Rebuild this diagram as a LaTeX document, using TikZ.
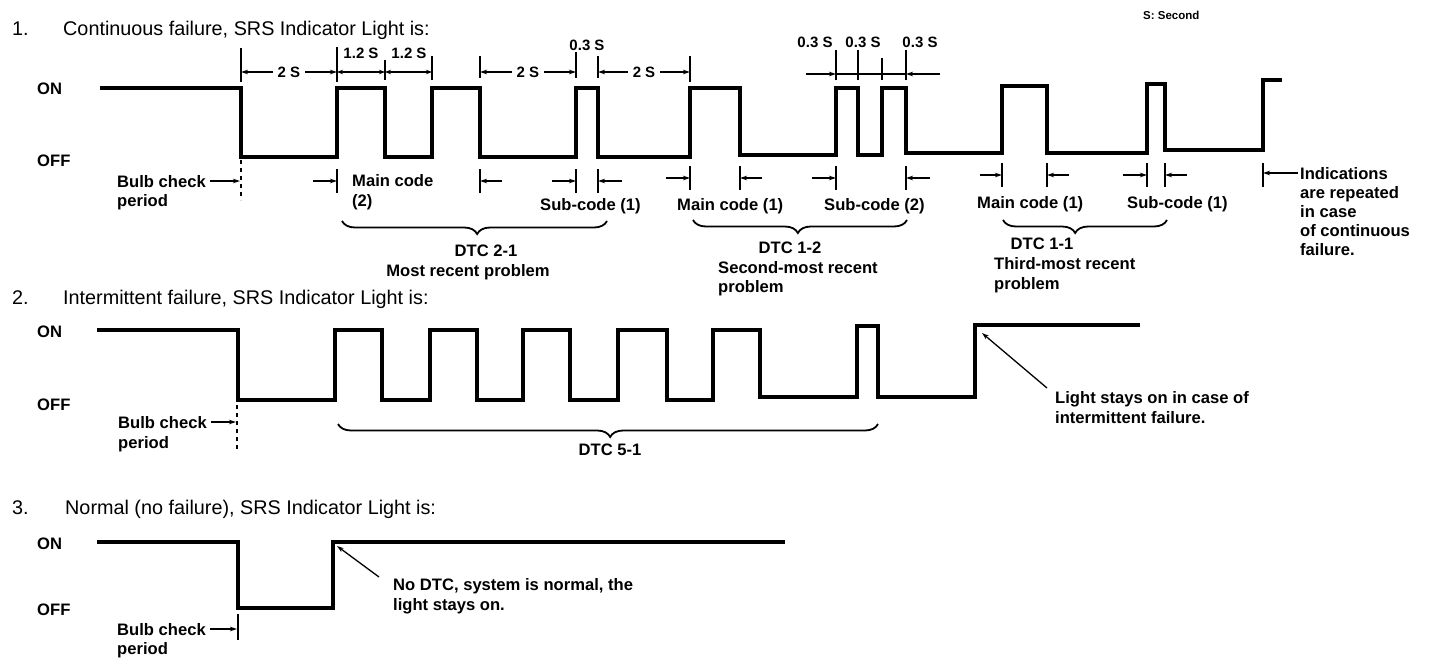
\documentclass[tikz,border=0pt]{standalone}
\usepackage{fontspec}
\setmainfont{Liberation Sans}
\usetikzlibrary{arrows.meta,decorations.pathreplacing}
\begin{document}
\begin{tikzpicture}[x=1pt,y=-1pt,
 wave/.style={line width=4.8pt, line join=miter, line cap=butt},
 thinl/.style={line width=1.3pt},
 arr/.style={thinl, -{Stealth[length=7pt,width=4.5pt]}},
 darr/.style={thinl, {Stealth[length=6pt,width=4.5pt]}-{Stealth[length=6pt,width=4.5pt]}},
 lbl/.style={font=\bfseries\fontsize{16.6}{19}\selectfont, inner sep=0pt, text height=12pt, text depth=0pt, anchor=west},
 clbl/.style={lbl, anchor=center},
 dl/.style={font=\bfseries\fontsize{15}{17}\selectfont, inner sep=0pt, text height=11pt, text depth=0pt},
 ttl/.style={font=\fontsize{19.8}{23}\selectfont, inner sep=0pt, text height=14pt, text depth=0pt, anchor=west},
 brc/.style={decorate, decoration={brace, mirror, amplitude=13pt, aspect=#1}, line width=1.8pt},
 brc/.default=0.5
]
\useasboundingbox[fill=white] (0,0) rectangle (1440,664);

% ---------------- Section 1 ----------------
\node[ttl] (n1) at (12,28) {1.};
\node[ttl] (t1) at (63,28) {Continuous failure, SRS Indicator Light is:};
\node[font=\bfseries\fontsize{11.5}{14}\selectfont, inner sep=0pt, anchor=west] (sec) at (1143,15) {S: Second};
\node[lbl] (on1) at (37,88) {ON};
\node[lbl] (off1) at (37,160) {OFF};

\draw[wave] (100,88) -- (241,88) -- (241,157) -- (337,157) -- (337,88) -- (385,88) -- (385,157)
  -- (432,157) -- (432,88) -- (480,88) -- (480,157) -- (576,157) -- (576,88) -- (598,88)
  -- (598,157) -- (690,157) -- (690,88) -- (740,88) -- (740,155) -- (836,155) -- (836,88)
  -- (858,88) -- (858,155) -- (882,155) -- (882,88) -- (906,88) -- (906,153) -- (1002,153)
  -- (1002,86) -- (1047,86) -- (1047,153) -- (1147,153) -- (1147,84) -- (1165,84) -- (1165,150)
  -- (1263,150) -- (1263,80) -- (1282,80);

% top dimension ticks
\foreach \x/\a/\b in {241/48/82, 337/47/82, 385/60/80, 432/56/80, 480/56/78, 576/52/78, 598/56/78, 690/56/82,
                       836/50/80, 858/50/80, 882/58/80, 906/50/80}
  \draw[thinl] (\x,\a) -- (\x,\b);
\coordinate (a241) at (241,72); \coordinate (a337) at (337,72); \coordinate (a385) at (385,72);
\coordinate (a432) at (432,72); \coordinate (a480) at (480,72); \coordinate (a576) at (576,72);
\coordinate (a598) at (598,72); \coordinate (a690) at (690,72);
\node[dl] (d1) at (289,72) {2 S};
\draw[arr] (d1.west) ++(-5,0) -- (a241);
\draw[arr] (d1.east) ++(5,0) -- (a337);
\draw[darr] (a337) -- (a385);
\draw[darr] (a385) -- (a432);
\node[dl] (d2) at (361,53) {1.2 S};
\node[dl] (d3) at (409,53) {1.2 S};
\node[dl] (d4) at (528,72) {2 S};
\draw[arr] (d4.west) ++(-5,0) -- (a480);
\draw[arr] (d4.east) ++(5,0) -- (a576);
\node[dl] (d5) at (587,45) {0.3 S};
\node[dl] (d6) at (644,72) {2 S};
\draw[arr] (d6.west) ++(-5,0) -- (a598);
\draw[arr] (d6.east) ++(5,0) -- (a690);

\coordinate (b806) at (806,74); \coordinate (b836) at (836,74);
\coordinate (b906) at (906,74); \coordinate (b940) at (940,74);
\draw[arr] (b806) -- (b836);
\draw[thinl] (b836) -- (b906);
\draw[arr] (b940) -- (b906);
\node[dl] (d7) at (815,42) {0.3 S};
\node[dl] (d8) at (863,42) {0.3 S};
\node[dl] (d9) at (920,42) {0.3 S};

% bottom ticks section 1
\draw[thinl, dash pattern=on 4pt off 4pt] (241,160) -- (241,200);
\foreach \x/\y in {337/181, 480/181, 576/181, 598/181, 690/178, 740/178, 836/178, 906/178,
                   1002/175, 1047/175, 1147/175, 1165/175, 1263/175}
  \draw[thinl] (\x,\y-12) -- (\x,\y+12);
\node[lbl] (bc1) at (117,181) {Bulb check};
\node[lbl] (bp1) at (117,200) {period};
\draw[arr] (bc1.east) ++(4,0) -- (240,181);

\draw[arr] (313,181) -- (337,181);
\node[lbl] (mc1) at (352,180) {Main code};
\node[lbl] (mc1b) at (352,200) {(2)};
\draw[arr] (502,181) -- (480,181);
\draw[arr] (552,181) -- (576,181);
\draw[arr] (622,181) -- (598,181);
\node[lbl] (sc1) at (540,204) {Sub-code (1)};
\draw[arr] (666,178) -- (690,178);
\draw[arr] (762,178) -- (740,178);
\node[lbl] (mc2) at (677,204) {Main code (1)};
\draw[arr] (812,178) -- (836,178);
\draw[arr] (930,178) -- (906,178);
\node[lbl] (sc2) at (824,204) {Sub-code (2)};
\draw[arr] (980,175) -- (1002,175);
\draw[arr] (1069,175) -- (1047,175);
\node[lbl] (mc3) at (977,202) {Main code (1)};
\draw[arr] (1123,175) -- (1147,175);
\draw[arr] (1187,175) -- (1165,175);
\node[lbl] (sc3) at (1127,202) {Sub-code (1)};

\node[lbl] (ind1) at (1300,173) {Indications};
\node[lbl] (ind2) at (1300,192) {are repeated};
\node[lbl] (ind3) at (1300,211) {in case};
\node[lbl] (ind4) at (1300,230) {of continuous};
\node[lbl] (ind5) at (1300,249) {failure.};
\draw[arr] (ind1.west) ++(-2,0) -- (1263,173);

\draw[brc=0.51] (342,221) -- (607,221);
\node[clbl] (dtc21) at (486,250) {DTC 2-1};
\node[clbl] (mr21) at (468,270) {Most recent problem};
\draw[brc=0.49] (693,220) -- (907,220);
\node[clbl] (dtc12) at (790,247) {DTC 1-2};
\node[lbl] (mr12) at (718,267) {Second-most recent};
\node[lbl] (mr12b) at (718,286) {problem};
\draw[brc=0.44] (1003,220) -- (1167,220);
\node[clbl] (dtc11) at (1042,243) {DTC 1-1};
\node[lbl] (mr11) at (994,263) {Third-most recent};
\node[lbl] (mr11b) at (994,283) {problem};

% ---------------- Section 2 ----------------
\node[ttl] (n2) at (12,297) {2.};
\node[ttl] (t2) at (63,297) {Intermittent failure, SRS Indicator Light is:};
\node[lbl] (on2) at (37,331) {ON};
\node[lbl] (off2) at (37,404) {OFF};
\draw[wave] (97,330) -- (238,330) -- (238,400) -- (335,400) -- (335,330) -- (382,330) -- (382,400)
  -- (430,400) -- (430,330) -- (477,330) -- (477,400) -- (523,400) -- (523,330) -- (570,330)
  -- (570,400) -- (618,400) -- (618,330) -- (667,330) -- (667,400) -- (713,400) -- (713,330)
  -- (760,330) -- (760,397) -- (857,397) -- (857,326) -- (878,326) -- (878,397) -- (975,397)
  -- (975,325) -- (1140,325);
\draw[thinl, dash pattern=on 4pt off 4pt] (237,405) -- (237,450);
\node[lbl] (bc2) at (118,422) {Bulb check};
\node[lbl] (bp2) at (118,442) {period};
\draw[arr] (bc2.east) ++(4,0) -- (236,422);
\draw[brc=0.504] (338,424) -- (878,424);
\node[clbl] (dtc51) at (610,449) {DTC 5-1};
\node[lbl] (ls1) at (1055,397) {Light stays on in case of};
\node[lbl] (ls2) at (1055,417) {intermittent failure.};
\coordinate (c2) at (982,333);
\draw[arr] (1047,388) -- (c2);

% ---------------- Section 3 ----------------
\node[ttl] (n3) at (12,507) {3.};
\node[ttl] (t3) at (65,507) {Normal (no failure), SRS Indicator Light is:};
\node[lbl] (on3) at (37,543) {ON};
\node[lbl] (off3) at (37,609) {OFF};
\draw[wave] (97,542) -- (238,542) -- (238,608) -- (333,608) -- (333,542) -- (785,542);
\draw[thinl] (238,614) -- (238,640);
\node[lbl] (bc3) at (117,629) {Bulb check};
\node[lbl] (bp3) at (117,648) {period};
\draw[arr] (bc3.east) ++(4,0) -- (237,629);
\node[lbl] (nd1) at (393,584) {No DTC, system is normal, the};
\node[lbl] (nd2) at (393,604) {light stays on.};
\coordinate (c3) at (337,546);
\draw[arr] (379,577) -- (c3);
\end{tikzpicture}
\end{document}
